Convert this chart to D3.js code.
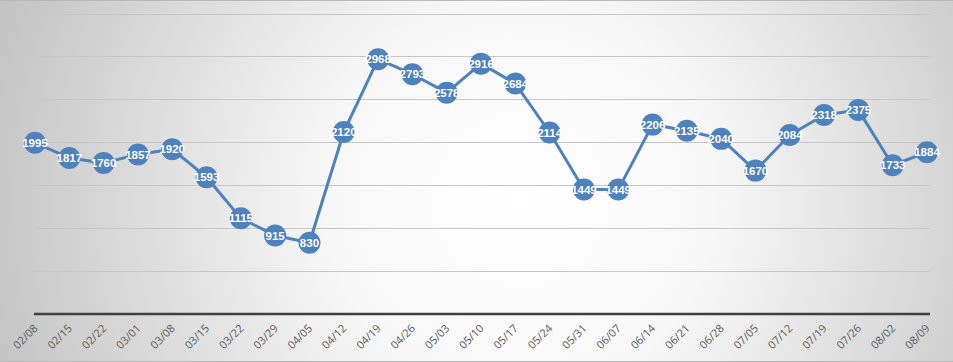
<!DOCTYPE html>
<html><head><meta charset="utf-8">
<script src="https://cdn.jsdelivr.net/npm/d3@7"></script>
<style>html,body{margin:0;padding:0;overflow:hidden;}</style>
</head><body>
<script>
const categories = ["02/08","02/15","02/22","03/01","03/08","03/15","03/22","03/29","04/05","04/12","04/19","04/26","05/03","05/10","05/17","05/24","05/31","06/07","06/14","06/21","06/28","07/05","07/12","07/19","07/26","08/02","08/09"];
const values = [1995,1817,1760,1857,1920,1593,1115,915,830,2120,2968,2793,2578,2916,2684,2114,1449,1449,2206,2135,2040,1670,2084,2318,2375,1733,1884];
const yTicks = [0,500,1000,1500,2000,2500,3000,3500];

const W = 953, H = 362;
const svg = d3.select("body").append("svg").attr("width", W).attr("height", H);
const defs = svg.append("defs");
const grad = defs.append("radialGradient").attr("id","bg").attr("gradientUnits","userSpaceOnUse")
  .attr("cx", 520).attr("cy", 200).attr("r", 560);
grad.append("stop").attr("offset","0%").attr("stop-color","#ffffff");
grad.append("stop").attr("offset","35%").attr("stop-color","#f7f7f7");
grad.append("stop").attr("offset","100%").attr("stop-color","#c2c2c2");
svg.append("rect").attr("width",W).attr("height",H).attr("fill","url(#bg)");
svg.append("line").attr("x1",0).attr("x2",W).attr("y1",0.5).attr("y2",0.5).attr("stroke","#b8b8b8");
svg.append("line").attr("x1",0).attr("x2",W).attr("y1",H-0.5).attr("y2",H-0.5).attr("stroke","#b8b8b8");

const x = d3.scalePoint().domain(categories).range([35, 927]);
const y = d3.scaleLinear().domain([0, 3500]).range([314, 13.5]);

// gridlines
svg.append("g").selectAll("line").data(yTicks.filter(d => d > 0)).join("line")
  .attr("x1", 34).attr("x2", 930)
  .attr("y1", d => Math.round(y(d)) + 0.5).attr("y2", d => Math.round(y(d)) + 0.5)
  .attr("stroke", "#c6c6c6").attr("stroke-width", 1);

// x axis
const xAxis = d3.axisBottom(x).tickSize(0).tickPadding(0);
const gx = svg.append("g").attr("transform", `translate(0,${y(0)})`).call(xAxis);
gx.select(".domain").attr("d", "M34,0H930").attr("stroke", "#404040").attr("stroke-width", 2.5);
gx.selectAll(".tick text")
  .attr("font-family", "Open Sans, Liberation Sans, sans-serif").attr("font-size", 11).attr("fill", "#595959")
  .attr("text-anchor", "end").attr("dy", 0).attr("y", 0)
  .attr("transform", "translate(3,15) rotate(-45)");

// line
const line = d3.line().x((d, i) => x(categories[i])).y(d => y(d));
svg.append("path").datum(values).attr("d", line).attr("fill", "none")
  .attr("stroke", "#4f81bd").attr("stroke-width", 3).attr("stroke-linejoin", "round");

const pts = svg.append("g").selectAll("g").data(values).join("g")
  .attr("transform", (d, i) => `translate(${x(categories[i])},${y(d)})`);
pts.append("circle").attr("r", 11).attr("fill", "#4f81bd");
pts.append("text").text(d => d).attr("text-anchor", "middle").attr("dy", "0.36em")
  .attr("font-family", "Liberation Sans, Arial, sans-serif").attr("font-weight", "bold")
  .attr("font-size", 11.5).attr("fill", "#ffffff");
</script>
</body></html>
